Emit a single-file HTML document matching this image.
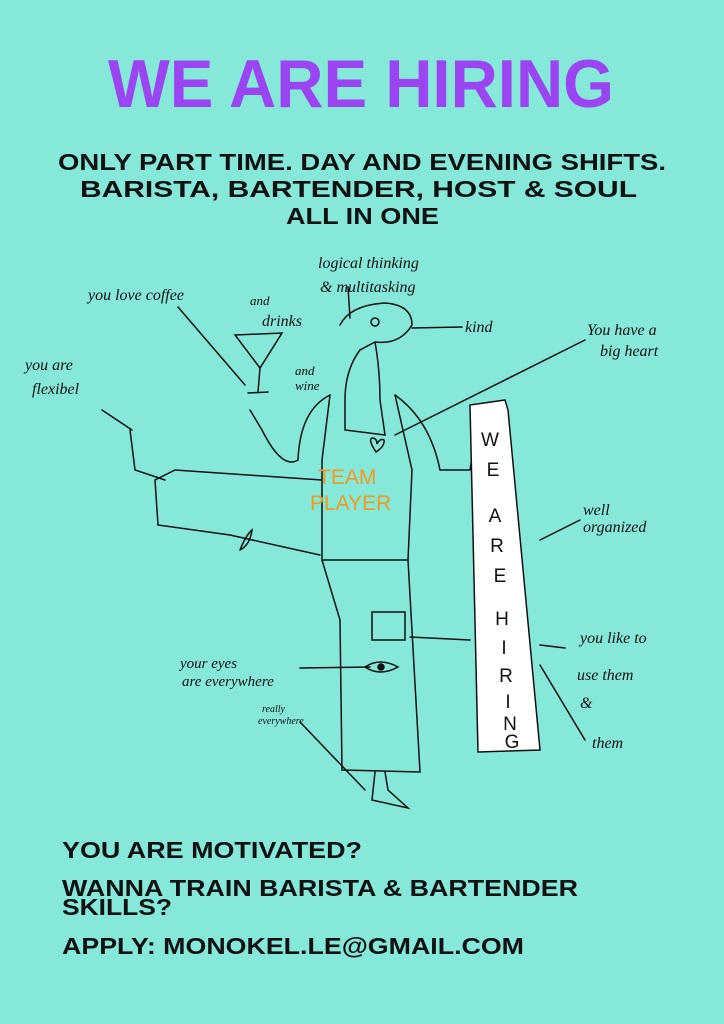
<!DOCTYPE html>
<html><head><meta charset="utf-8"><style>
html,body{margin:0;padding:0;background:#86e8d9;}
svg{display:block}
.h{font-family:"Liberation Sans",sans-serif;font-weight:bold;fill:#111}
.w{font-family:"Liberation Serif",serif;font-style:italic;fill:#111}
</style></head><body>
<svg width="724" height="1024" viewBox="0 0 724 1024" xmlns="http://www.w3.org/2000/svg">
<rect width="724" height="1024" fill="#86e8d9"/>
<text x="108" y="107" textLength="506" lengthAdjust="spacingAndGlyphs" font-family="Liberation Sans,sans-serif" font-weight="bold" font-size="68" fill="#9a44f2">WE ARE HIRING</text>
<text class="h" x="58" y="170" textLength="608" lengthAdjust="spacingAndGlyphs" font-size="23">ONLY PART TIME. DAY AND EVENING SHIFTS.</text>
<text class="h" x="80" y="197" textLength="557" lengthAdjust="spacingAndGlyphs" font-size="23">BARISTA, BARTENDER, HOST &amp; SOUL</text>
<text class="h" x="286" y="224" textLength="153" lengthAdjust="spacingAndGlyphs" font-size="23">ALL IN ONE</text>

<g fill="none" stroke="#111" stroke-width="1.5" stroke-linecap="round">
<path d="M178 307 L245 385"/>
<path d="M348 287 L350 318"/>
<path d="M412 328 L462 327"/>
<path d="M585 340 L395 435"/>
<path d="M102 410 L132 430"/>
<path d="M540 540 L580 520"/>
<path d="M410 637 L470 640"/>
<path d="M540 645 L565 648"/>
<path d="M540 665 L585 740"/>
<path d="M300 668 L370 667"/>
<path d="M300 722 L365 790"/>
<path d="M235 335 L282 333 L260 368 Z"/>
<path d="M260 368 L258 392"/>
<path d="M248 393 L268 392"/>
<path d="M340 325 Q350 305 385 303 Q412 305 412 325 Q400 345 375 342 L360 350 Q345 370 345 400 L345 430 L385 435 L380 400 Q380 370 375 342"/>
<circle cx="375" cy="322" r="4"/>
<path d="M330 395 L322 460 L322 560 L408 560 L412 470 L395 395"/>
<path d="M330 395 Q300 410 298 460 Q282 470 262 430 L250 410"/>
<path d="M395 395 Q430 420 440 470 L470 470 L478 420"/>
<path d="M376 452 Q368 440 372 438 Q377 438 377 444 Q380 438 384 440 Q385 446 376 452"/>
<path d="M322 480 L175 470 L155 480 L158 525 L230 535 L320 555"/>
<path d="M130 430 L135 470 L165 480"/>
<path d="M322 560 L340 620 L342 770 L420 772 L408 560"/>
<path d="M372 640 L405 640 L405 612 L372 612 Z"/>
<path d="M375 772 L372 800 L408 808 L388 790 L385 772"/>
<path d="M365 667 Q380 657 398 667 Q380 677 365 667"/>
<circle cx="381" cy="667" r="3" fill="#111"/>
<path d="M240 550 Q246 535 252 530 Q250 545 240 550"/>
<path d="M470 405 L505 400 L508 410 L540 750 L478 752 Z" fill="#fff"/>
</g>
<g font-family="Liberation Sans,sans-serif" font-size="19" fill="#111" text-anchor="middle">
<text x="490" y="446">W</text><text x="493" y="476">E</text><text x="495" y="522">A</text><text x="497" y="552">R</text><text x="500" y="582">E</text><text x="502" y="625">H</text><text x="504" y="654">I</text><text x="506" y="682">R</text><text x="508" y="708">I</text><text x="510" y="730">N</text><text x="512" y="748">G</text>
</g>
<text x="318" y="484" font-family="Liberation Sans,sans-serif" font-size="21" fill="#f09a20">TEAM</text>
<text x="310" y="510" font-family="Liberation Sans,sans-serif" font-size="21" fill="#f09a20">PLAYER</text>

<g class="w" style="font-size:16px">
<text x="318" y="268">logical thinking</text>
<text x="320" y="292">&amp; multitasking</text>
<text x="88" y="300">you love coffee</text>
<text x="250" y="305" style="font-size:13px">and</text>
<text x="262" y="326">drinks</text>
<text x="295" y="375" style="font-size:13px">and</text>
<text x="295" y="390" style="font-size:13px">wine</text>
<text x="465" y="332">kind</text>
<text x="587" y="335">You have a</text>
<text x="600" y="356">big heart</text>
<text x="25" y="370">you are</text>
<text x="32" y="394">flexibel</text>
<text x="583" y="515">well</text>
<text x="583" y="532">organized</text>
<text x="580" y="643">you like to</text>
<text x="577" y="680">use them</text>
<text x="580" y="708">&amp;</text>
<text x="592" y="748">them</text>
<text x="180" y="668" style="font-size:15px">your eyes</text>
<text x="182" y="686" style="font-size:15px">are everywhere</text>
<text x="262" y="712" style="font-size:10px">really</text>
<text x="258" y="724" style="font-size:10px">everywhere</text>
</g>

<text class="h" x="62" y="858" textLength="300" lengthAdjust="spacingAndGlyphs" font-size="23">YOU ARE MOTIVATED?</text>
<text class="h" x="62" y="896" textLength="516" lengthAdjust="spacingAndGlyphs" font-size="23">WANNA TRAIN BARISTA &amp; BARTENDER</text>
<text class="h" x="62" y="915" textLength="110" lengthAdjust="spacingAndGlyphs" font-size="23">SKILLS?</text>
<text class="h" x="62" y="954" textLength="462" lengthAdjust="spacingAndGlyphs" font-size="23">APPLY: MONOKEL.LE@GMAIL.COM</text>
</svg>
</body></html>
